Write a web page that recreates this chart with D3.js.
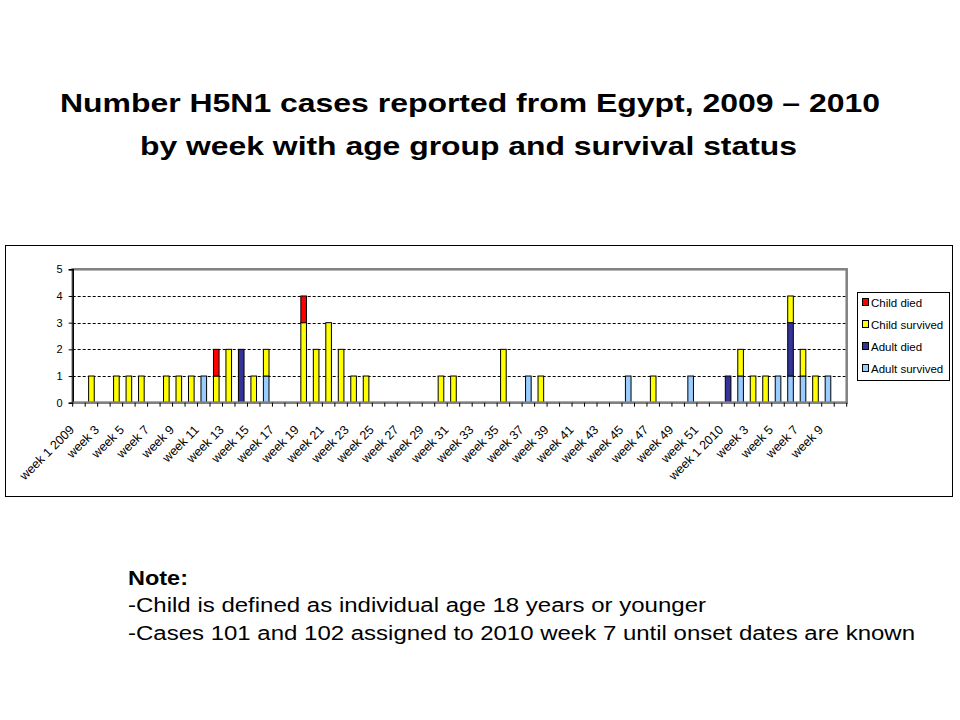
<!DOCTYPE html>
<html>
<head>
<meta charset="utf-8">
<script src="https://cdn.jsdelivr.net/npm/d3@7"></script>
<style>
  html, body { margin: 0; padding: 0; background: #fff; }
  svg { display: block; }
</style>
</head>
<body>
<svg id="chart" width="960" height="720"></svg>
<script>
// ---- Data ----
const weekLabels = [];
for (let w = 1; w <= 52; w++) weekLabels.push(w === 1 ? "week 1 2009" : "week " + w);
for (let w = 1; w <= 10; w++) weekLabels.push(w === 1 ? "week 1 2010" : "week " + w);

const seriesNames = ["Adult survived", "Adult died", "Child survived", "Child died"];
const seriesColors = ["#99CCFF", "#333399", "#FFFF00", "#FF0000"];

//                     2009: weeks 1..52                                                                                         2010: weeks 1..10
const adultSurvived = [0,0,0,0,0,0,0,0,0,0,1,0,0,0,0,1,0,0,0,0,0,0,0,0,0,0,0,0,0,0,0,0,0,0,0,0,1,0,0,0,0,0,0,0,1,0,0,0,0,1,0,0, 0,1,0,0,1,1,1,0,1,0];
const adultDied     = [0,0,0,0,0,0,0,0,0,0,0,0,0,2,0,0,0,0,0,0,0,0,0,0,0,0,0,0,0,0,0,0,0,0,0,0,0,0,0,0,0,0,0,0,0,0,0,0,0,0,0,0, 1,0,0,0,0,2,0,0,0,0];
const childSurvived = [0,1,0,1,1,1,0,1,1,1,0,1,2,0,1,1,0,0,3,2,3,2,1,1,0,0,0,0,0,1,1,0,0,0,2,0,0,1,0,0,0,0,0,0,0,0,1,0,0,0,0,0, 0,1,1,1,0,1,1,1,0,0];
const childDied     = [0,0,0,0,0,0,0,0,0,0,0,1,0,0,0,0,0,0,1,0,0,0,0,0,0,0,0,0,0,0,0,0,0,0,0,0,0,0,0,0,0,0,0,0,0,0,0,0,0,0,0,0, 0,0,0,0,0,0,0,0,0,0];
const yTicks = [0, 1, 2, 3, 4, 5];

const titleLines = ["Number H5N1 cases reported from Egypt, 2009 \u2013 2010", "by week with age group and survival status"];
const noteLines = ["-Child is defined as individual age 18 years or younger", "-Cases 101 and 102 assigned to 2010 week 7 until onset dates are known"];

// ---- Build table ----
const table = weekLabels.map((lab, i) => ({
  idx: i,
  "Adult survived": adultSurvived[i],
  "Adult died": adultDied[i],
  "Child survived": childSurvived[i],
  "Child died": childDied[i]
}));

const svg = d3.select("#chart");
const font = "Arial, 'Liberation Sans', sans-serif";

// Title (horizontally stretched like the original slide)
const titleWidths = [820, 657];
svg.append("g").selectAll("text").data(titleLines).join("text")
  .attr("x", (d, i) => [60, 140][i]).attr("y", (d, i) => 112 + i * 43)
  .attr("font-family", font).attr("font-weight", "bold").attr("font-size", 26)
  .attr("textLength", (d, i) => titleWidths[i]).attr("lengthAdjust", "spacingAndGlyphs")
  .text(d => d);

// Outer chart border
svg.append("rect").attr("x", 5.5).attr("y", 245.5).attr("width", 947).attr("height", 251)
  .attr("fill", "#fff").attr("stroke", "#000").attr("stroke-width", 1);

const pLeft = 72.7, pRight = 846.7, pTop = 269.3, pBottom = 402.7;

const x = d3.scaleBand().domain(d3.range(weekLabels.length)).range([pLeft, pRight]).paddingInner(0.55).paddingOuter(0.275);
const xb = d3.scaleBand().domain(d3.range(weekLabels.length)).range([pLeft, pRight]);
const y = d3.scaleLinear().domain([0, 5]).range([pBottom, pTop]);

// Gridlines
svg.append("g").selectAll("line").data(yTicks.filter(t => t > 0 && t < 5)).join("line")
  .attr("x1", pLeft).attr("x2", pRight)
  .attr("y1", d => Math.round(y(d)) + 0.5).attr("y2", d => Math.round(y(d)) + 0.5)
  .attr("stroke", "#000").attr("stroke-dasharray", "3,2").attr("stroke-width", 1);

// Bars
const stack = d3.stack().keys(seriesNames);
const stacked = stack(table);
svg.append("g").selectAll("g").data(stacked).join("g")
  .attr("fill", (d, i) => seriesColors[i])
  .selectAll("rect").data(d => d.filter(p => p[1] - p[0] > 0)).join("rect")
  .attr("x", d => x(d.data.idx))
  .attr("width", x.bandwidth())
  .attr("y", d => y(d[1]))
  .attr("height", d => y(d[0]) - y(d[1]))
  .attr("stroke", "#000").attr("stroke-width", 1);

// Plot area border (gray)
svg.append("rect").attr("x", pLeft).attr("y", pTop).attr("width", pRight - pLeft).attr("height", pBottom - pTop)
  .attr("fill", "none").attr("stroke", "#808080").attr("stroke-width", 2.5);

// Y axis
const yAxis = svg.append("g").attr("transform", `translate(${pLeft},0)`)
  .call(d3.axisLeft(y).tickValues(yTicks).tickSize(4).tickPadding(6).tickFormat(d3.format("d")));
yAxis.select(".domain").attr("stroke", "#000").attr("stroke-width", 1.5);
yAxis.selectAll("text").attr("font-family", font).attr("font-size", 11).attr("fill", "#000");

// X axis: ticks at category boundaries
const xAxisG = svg.append("g").attr("transform", `translate(0,${pBottom})`);
xAxisG.append("line").attr("x1", pLeft).attr("x2", pRight).attr("y1", 0).attr("y2", 0)
  .attr("stroke", "#808080").attr("stroke-width", 2);
xAxisG.selectAll("line.tick").data(d3.range(weekLabels.length + 1)).join("line")
  .attr("class", "tick")
  .attr("x1", d => pLeft + d * xb.step()).attr("x2", d => pLeft + d * xb.step())
  .attr("y1", 0).attr("y2", 4).attr("stroke", "#000");
xAxisG.selectAll("text").data(d3.range(0, weekLabels.length, 2)).join("text")
  .attr("transform", d => `translate(${xb(d) + xb.bandwidth() / 2 - 4},28) rotate(-45)`)
  .attr("text-anchor", "end")
  .attr("font-family", font).attr("font-size", 12.5)
  .text(d => weekLabels[d]);

// Legend
const legend = svg.append("g");
legend.append("rect").attr("x", 857.5).attr("y", 292.5).attr("width", 92).attr("height", 88)
  .attr("fill", "#fff").attr("stroke", "#000");
const legOrder = ["Child died", "Child survived", "Adult died", "Adult survived"];
const li = legend.selectAll("g.item").data(legOrder).join("g").attr("class", "item")
  .attr("transform", (d, i) => `translate(862,${303 + i * 22})`);
li.append("rect").attr("x", 0.5).attr("y", -4.5).attr("width", 6).attr("height", 7)
  .attr("fill", d => seriesColors[seriesNames.indexOf(d)]).attr("stroke", "#000");
li.append("text").attr("x", 9).attr("y", 4).attr("font-family", font).attr("font-size", 11.5)
  .text(d => d);

// Notes
svg.append("text").attr("x", 128).attr("y", 585).attr("font-family", font).attr("font-weight", "bold")
  .attr("font-size", 20).attr("textLength", 60).attr("lengthAdjust", "spacingAndGlyphs").text("Note:");
const noteWidths = [578, 787];
svg.append("g").selectAll("text").data(noteLines).join("text")
  .attr("x", 128).attr("y", (d, i) => 612 + i * 28)
  .attr("font-family", font).attr("font-size", 20)
  .attr("textLength", (d, i) => noteWidths[i]).attr("lengthAdjust", "spacingAndGlyphs")
  .text(d => d);
</script>
</body>
</html>
